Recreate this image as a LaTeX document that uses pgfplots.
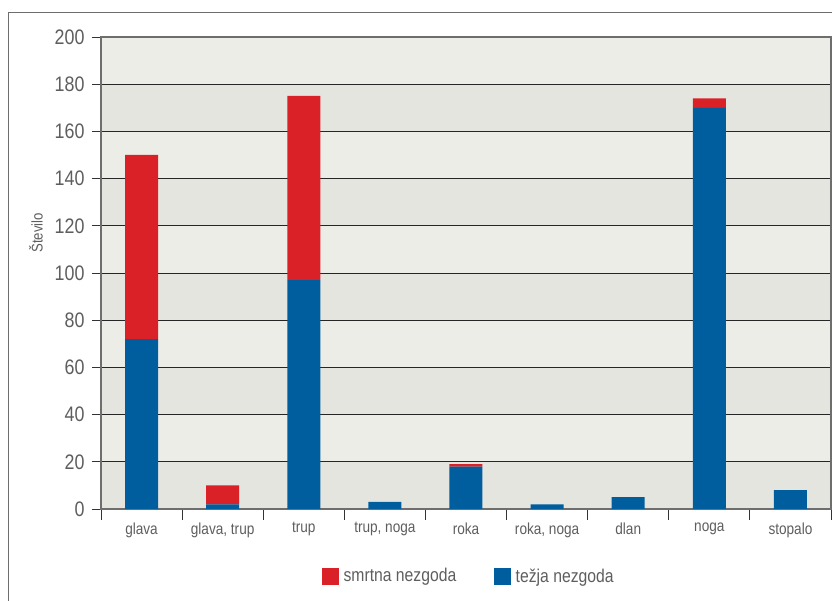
\documentclass[border=0pt]{standalone}
\usepackage{pgfplots}
\pgfplotsset{compat=1.18}
\usepackage{fontspec}
\setmainfont{Liberation Sans}[FakeStretch=0.85]

\definecolor{barred}{HTML}{DA2128}
\definecolor{barblue}{HTML}{005E9E}
\definecolor{bandlight}{HTML}{EDEDE8}
\definecolor{banddark}{HTML}{E5E5E0}
\definecolor{txt}{HTML}{5E5E5E}
\definecolor{axgray}{HTML}{6E6E6E}

% number of injuries by body part: serious (blue) and fatal (red)
\pgfplotstableread{
x tezja smrtna
0 72  78
1 2   8
2 97  78
3 3   0
4 18  1
5 2   0
6 5   0
7 170 4
8 8   0
}\poskodbe

\begin{document}
\begin{tikzpicture}
\path[use as bounding box] (-101pt,-92pt) rectangle (731pt,509pt);
% striped plot background, one band per 20 units (47.2pt)
\fill[bandlight] (0pt,0pt) rectangle (730pt,472pt);
\fill[banddark] (0pt,0pt) rectangle (730pt,47.2pt);
\fill[banddark] (0pt,94.4pt) rectangle (730pt,141.6pt);
\fill[banddark] (0pt,188.8pt) rectangle (730pt,236pt);
\fill[banddark] (0pt,283.2pt) rectangle (730pt,330.4pt);
\fill[banddark] (0pt,377.6pt) rectangle (730pt,424.8pt);
\begin{axis}[
  scale only axis, width=730pt, height=472pt,
  ybar stacked, bar width=33pt,
  xmin=-0.5, xmax=8.5, ymin=0, ymax=200,
  ytick={0,20,...,200},
  xtick={0,...,8},
  xticklabels={glava, {glava, trup}, trup, {trup, noga}, roka, {roka, noga}, dlan, noga, stopalo},
  minor xtick={-0.5,0.5,...,8.5},
  major x tick style={draw=none},
  minor tick length=11pt,
  major tick length=9pt,
  tick align=outside,
  xtick pos=bottom, ytick pos=left,
  tick style={black!80, line width=0.9pt},
  axis line style={axgray, line width=1.4pt},
  ymajorgrids,
  major grid style={black!85, line width=0.9pt},
  /pgf/number format/assume math mode=true,
  yticklabel style={font=\fontsize{21}{25}\selectfont, text=txt, xshift=-4pt},
  xticklabel style={font=\fontsize{16}{19}\selectfont, text=txt, yshift=-1pt},
  ylabel={Število},
  ylabel style={at={(axis description cs:-0.089,0.585)}, anchor=center,
    font=\fontsize{15.5}{18}\selectfont, text=txt},
  legend columns=2,
  legend style={at={(axis description cs:0.504,-0.142)}, anchor=center,
    draw=none, fill=none, font=\fontsize{18.5}{22}\selectfont, text=txt,
    /tikz/every even column/.append style={column sep=36pt}},
  legend image code/.code={\fill[#1] (0pt,-8pt) rectangle (16pt,8pt); \path (19pt,0pt);},
]
\addlegendimage{barred}
\addlegendentry{smrtna nezgoda}
\addlegendimage{barblue}
\addlegendentry{težja nezgoda}

\addplot[fill=barblue, draw=none, forget plot] table[x=x, y=tezja] {\poskodbe};
\addplot[fill=barred, draw=none, forget plot] table[x=x, y=smrtna] {\poskodbe};
\end{axis}
% outer frame
\draw[axgray, line width=1pt] (-92.5pt,-95pt) -- (-92.5pt,496pt) -- (735pt,496pt);
\end{tikzpicture}
\end{document}
